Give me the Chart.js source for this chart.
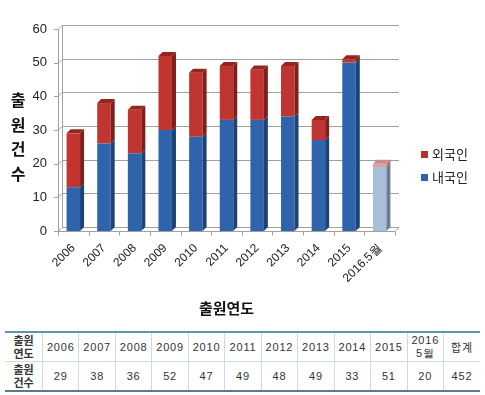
<!DOCTYPE html>
<html lang="ko">
<head>
<meta charset="UTF-8">
<title>출원건수</title>
<script src="https://cdn.jsdelivr.net/npm/chart.js"></script>
<style>
  body { margin: 0; background: #fff; font-family: Arial, "Noto Sans CJK KR", sans-serif; }
  #wrap { position: relative; width: 485px; height: 395px; }
  #chartBox { position: absolute; left: 0; top: 0; width: 485px; height: 325px; }
  #yTitle { position: absolute; left: 8px; top: 87px; width: 20px; font: bold 16px "Noto Sans CJK KR", sans-serif;
            line-height: 24.5px; text-align: center; color: #111; }
  #legend { position: absolute; left: 421px; top: 144px; font: 13px "Noto Sans CJK KR", sans-serif; color: #222; }
  #legend div { height: 23px; line-height: 20px; }
  #legend span { display: inline-block; width: 7px; height: 7px; margin-right: 4px; vertical-align: 1px; }
  table { position: absolute; left: 5px; top: 331px; width: 475px; border-collapse: collapse; table-layout: fixed;
          font: 11px "Liberation Sans", Arial, sans-serif; color: #333; }
  td { border: 1px solid #cfdcdf; text-align: center; height: 28px; padding: 0; letter-spacing: 0.8px; }
  tr:first-child td { border-top: 2px solid #5f98a4; }
  tr:last-child td { border-bottom: 2px solid #557f88; }
  td:first-child { border-left: none; font: bold 11px "Noto Sans CJK KR", sans-serif; line-height: 13px; width: 37px; letter-spacing: 0; }
  td:last-child { border-right: none; }
</style>
</head>
<body>
<div id="wrap">
  <div id="chartBox"><canvas id="chart"></canvas></div>
  <div id="yTitle">출<br>원<br>건<br>수</div>
  <div id="legend">
    <div><span style="background:#b8312c"></span>외국인</div>
    <div><span style="background:#2f64ad"></span>내국인</div>
  </div>
  <table id="tbl"></table>
</div>
<script>
// 출원연도별 출원건수
const years = ['2006', '2007', '2008', '2009', '2010', '2011', '2012', '2013', '2014', '2015', '2016.5월'];
const domestic = [13, 26, 23, 30, 28, 33, 33, 34, 27, 50, 19];   // 내국인
const foreign  = [16, 12, 13, 22, 19, 16, 15, 15, 6, 1, 1];      // 외국인
const totals   = [29, 38, 36, 52, 47, 49, 48, 49, 33, 51, 20];   // 표의 출원건수
const tableYears = ['2006', '2007', '2008', '2009', '2010', '2011', '2012', '2013', '2014', '2015', '2016<br>5월'];
const grandTotal = 452;
const yTicks = [0, 10, 20, 30, 40, 50, 60];

// 표
let row1 = '<tr><td>출원<br>연도</td>';
tableYears.forEach(y => row1 += '<td>' + y + '</td>');
row1 += '<td style="font-family:\'Noto Sans CJK KR\'">합계</td></tr>';
let row2 = '<tr><td>출원<br>건수</td>';
totals.forEach(v => row2 += '<td>' + v + '</td>');
row2 += '<td>' + grandTotal + '</td></tr>';
document.getElementById('tbl').innerHTML = row1 + row2;

const last = years.length - 1;
const dx = 4, dy = 4;

// 3D 느낌: 벽/바닥 격자와 막대 옆면, 윗면
const bar3d = {
  id: 'bar3d',
  beforeDatasetsDraw(chart) {
    const { ctx, chartArea: a, scales: { y } } = chart;
    ctx.save();
    ctx.strokeStyle = '#a0a0a0';
    ctx.lineWidth = 1;
    yTicks.forEach(v => {
      const py = Math.round(y.getPixelForValue(v)) + 0.5;
      ctx.beginPath();
      ctx.moveTo(a.left - 4, py);
      ctx.lineTo(a.left, py);
      ctx.lineTo(a.left + dx, py - dy);
      ctx.lineTo(a.right + dx, py - dy);
      ctx.stroke();
    });
    const b = Math.round(y.getPixelForValue(0)) + 0.5;
    const t = Math.round(y.getPixelForValue(60)) + 0.5;
    ctx.beginPath();
    ctx.moveTo(a.left + 0.5, t); ctx.lineTo(a.left + 0.5, b);
    ctx.moveTo(a.left + dx + 0.5, t - dy); ctx.lineTo(a.left + dx + 0.5, b - dy);
    ctx.moveTo(a.left, b); ctx.lineTo(a.right, b); ctx.lineTo(a.right + dx, b - dy);
    for (let i = 0; i <= years.length; i++) {
      const px = Math.round(a.left + (a.right - a.left) * i / years.length) + 0.5;
      ctx.moveTo(px, b); ctx.lineTo(px, b + 4);
    }
    ctx.stroke();
    ctx.restore();
  },
  afterDatasetsDraw(chart) {
    const { ctx } = chart;
    ctx.save();
    chart.data.datasets.forEach((ds, di) => {
      chart.getDatasetMeta(di).data.forEach((bar, i) => {
        const { x, y, base, width } = bar.getProps(['x', 'y', 'base', 'width'], true);
        const l = x - width / 2, r = x + width / 2;
        ctx.fillStyle = ds.sideColor[i === last ? 1 : 0];
        ctx.beginPath();
        ctx.moveTo(r, y); ctx.lineTo(r + dx, y - dy); ctx.lineTo(r + dx, base - dy); ctx.lineTo(r, base);
        ctx.closePath(); ctx.fill();
        if (di === chart.data.datasets.length - 1) {
          ctx.fillStyle = ds.topColor[i === last ? 1 : 0];
          ctx.beginPath();
          ctx.moveTo(l, y); ctx.lineTo(l + dx, y - dy); ctx.lineTo(r + dx, y - dy); ctx.lineTo(r, y);
          ctx.closePath(); ctx.fill();
        }
      });
    });
    ctx.restore();
  }
};

new Chart(document.getElementById('chart'), {
  type: 'bar',
  data: {
    labels: years,
    datasets: [
      {
        label: '내국인', data: domestic,
        backgroundColor: ctx => ctx.dataIndex === last ? '#a9bedb' : '#2f64ad',
        sideColor: ['#1d4278', '#6d7d93'], topColor: ['#4b7cc0', '#c8d6ea']
      },
      {
        label: '외국인', data: foreign,
        backgroundColor: ctx => ctx.dataIndex === last ? '#d9a3a3' : '#c0352f',
        sideColor: ['#7e1f1b', '#a77777'], topColor: ['#96251f', '#c88f8f']
      }
    ]
  },
  options: {
    responsive: true,
    maintainAspectRatio: false,
    animation: false,
    barPercentage: 0.44,
    categoryPercentage: 1,
    layout: { padding: { left: 0, right: 90, top: 29, bottom: 8 } },
    plugins: { legend: { display: false }, tooltip: { enabled: false } },
    scales: {
      x: {
        stacked: true,
        afterFit: s => { s.height = 86; },
        grid: { display: false },
        border: { display: false },
        ticks: { color: '#222', font: { family: 'Arial', size: 12 }, maxRotation: 45, minRotation: 45, padding: 2 },
        title: { display: true, text: '출원연도', color: '#111', font: { family: 'Noto Sans CJK KR', size: 15, weight: 'bold' }, padding: { top: 8, bottom: 0 } }
      },
      y: {
        stacked: true,
        min: 0, max: 60,
        afterFit: s => { s.width = 58; },
        afterBuildTicks: s => { s.ticks = yTicks.map(v => ({ value: v })); },
        grid: { display: false },
        border: { display: false },
        ticks: { color: '#222', font: { family: 'Arial', size: 13 }, padding: 3 }
      }
    }
  },
  plugins: [bar3d]
});
</script>
</body>
</html>
